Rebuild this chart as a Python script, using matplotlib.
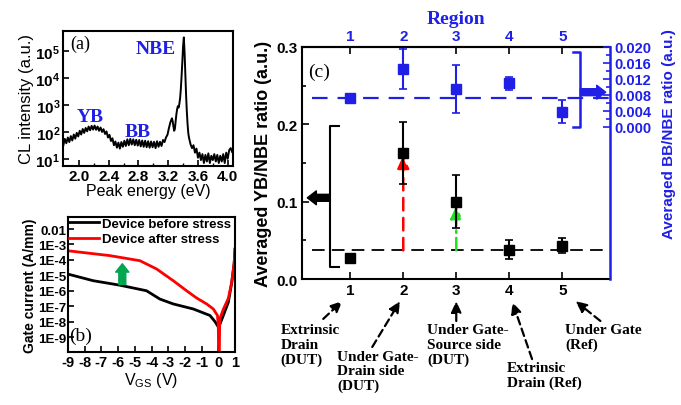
import matplotlib
matplotlib.use("Agg")
import matplotlib.pyplot as plt
import numpy as np

plt.rcParams['font.family'] = ['Liberation Sans', 'DejaVu Sans']
plt.rcParams['mathtext.fontset'] = 'custom'
plt.rcParams['mathtext.rm'] = 'Liberation Sans'
plt.rcParams['mathtext.bf'] = 'Liberation Sans:bold'

BLUE = '#1f1fe6'
SERIF = ['Liberation Serif', 'DejaVu Serif']

# (a) CL spectrum
cl_energy = [1.79, 1.81, 1.83, 1.85, 1.87, 1.89, 1.91, 1.93, 1.95, 1.97, 1.99,
             2.01, 2.03, 2.05, 2.07, 2.09, 2.11, 2.13, 2.15, 2.17, 2.19, 2.21,
             2.23, 2.25, 2.27, 2.29, 2.31, 2.33, 2.35, 2.37, 2.39, 2.41, 2.43,
             2.45, 2.47, 2.49, 2.51, 2.53, 2.55, 2.57, 2.59, 2.61, 2.63, 2.65,
             2.67, 2.69, 2.71, 2.73, 2.75, 2.77, 2.79, 2.81, 2.83, 2.85, 2.87,
             2.89, 2.91, 2.93, 2.95, 2.97, 2.99, 3.01, 3.03, 3.05, 3.07, 3.09,
             3.11, 3.13, 3.15, 3.17, 3.19, 3.21, 3.23, 3.25, 3.26, 3.27, 3.28,
             3.29, 3.30, 3.31, 3.32, 3.33, 3.34, 3.35, 3.36, 3.37, 3.38, 3.39,
             3.40, 3.41, 3.42, 3.43, 3.44, 3.45, 3.46, 3.47, 3.48, 3.50, 3.52,
             3.54, 3.56, 3.58, 3.60, 3.62, 3.64, 3.66, 3.68, 3.70, 3.72, 3.74,
             3.76, 3.78, 3.80, 3.82, 3.84, 3.86, 3.88, 3.90, 3.92, 3.94, 3.96,
             3.98, 4.00, 4.02, 4.04, 4.06]
cl_intensity = [32, 55, 38, 62, 42, 70, 48, 80, 56, 92, 68,
                110, 80, 128, 92, 140, 105, 158, 115, 168, 122, 172,
                120, 158, 110, 146, 100, 126, 84, 104, 62, 78, 46,
                58, 32, 44, 26, 40, 24, 42, 28, 47, 30, 53,
                32, 55, 34, 53, 32, 51, 31, 50, 29, 48, 28,
                47, 27, 45, 26, 44, 27, 43, 25, 45, 28, 43,
                30, 50, 42, 62, 78, 140, 230, 320, 250, 160, 110,
                130, 250, 450, 700, 900, 800, 1100, 1800, 4000, 12000, 40000,
                150000, 320000, 90000, 15000, 2500, 600, 200, 90, 60, 35, 25,
                32, 17, 24, 11, 17, 9, 15, 7, 14, 8, 16,
                7, 13, 9, 15, 8, 14, 7, 13, 8, 15, 7,
                17, 10, 21, 25, 18]

# (b) gate leakage curves
vgs_before = [-9, -7.5, -5.9, -4.3, -3.5, -2.7, -1.5, -0.5, -0.2, 0.0, 0.1,
              0.3, 0.6, 0.8, 0.95, 1.0]
ig_before = [1.2e-5, 4.5e-6, 2.3e-6, 1.0e-6, 2.9e-7, 1.4e-7, 6.6e-8, 2.5e-8,
             1.0e-8, 4.5e-9, 7.0e-9, 2.5e-8, 1.8e-7, 3.2e-6, 6.3e-5, 5e-4]
vgs_after = [-9, -6.5, -4.7, -3.7, -2.7, -1.9, -1.3, -0.7, -0.3, -0.05, 0.0,
             0.02, 0.05, 0.08, 0.1, 0.3, 0.6, 0.8, 0.95, 1.0]
ig_after = [3.9e-4, 1.9e-4, 8.9e-5, 2.6e-5, 4.5e-6, 1.0e-6, 3.4e-7, 1.4e-7,
            6.6e-8, 2.5e-8, 5e-9, 1e-11, 1e-11, 5e-9, 1.6e-8, 6.3e-8, 3.2e-7,
            3.5e-6, 6.3e-5, 5e-4]

# (c) region statistics
regions = [1, 2, 3, 4, 5]
yb_nbe = [0.027, 0.163, 0.100, 0.038, 0.043]
yb_err = [0.004, 0.040, 0.034, 0.012, 0.010]
yb_ref = 0.037
bb_nbe = [0.00725, 0.0145, 0.0095, 0.0109, 0.0038]
bb_err = [0.0005, 0.0050, 0.0061, 0.0016, 0.0029]
bb_ref = 0.00725
region_names = ['Extrinsic\nDrain\n(DUT)', 'Under Gate-\nDrain side\n(DUT)',
                'Under Gate-\nSource side\n(DUT)', 'Extrinsic\nDrain (Ref)',
                'Under Gate\n(Ref)']

fig = plt.figure(figsize=(6.81, 4.06), dpi=100)


def frame(ax, lw=1.5):
    for s in ax.spines.values():
        s.set_linewidth(lw)


# ---------------- (a)
axa = fig.add_axes([0.0925, 0.589, 0.2495, 0.332])
axa.plot(cl_energy, cl_intensity, color='k', lw=1.4)
axa.set_yscale('log')
axa.set_xlim(1.785, 4.07)
axa.set_ylim(10**0.74, 10**5.74)
axa.set_xticks([2.0, 2.4, 2.8, 3.2, 3.6, 4.0])
axa.set_xticks([2.2, 2.6, 3.0, 3.4, 3.8], minor=True)
axa.set_yticks([1e1, 1e2, 1e3, 1e4, 1e5])
axa.set_yticklabels([r'$\mathbf{10^{%d}}$' % i for i in range(1, 6)])
axa.set_xticklabels(['2.0', '2.4', '2.8', '3.2', '3.6', '4.0'], fontweight='bold')
axa.tick_params(which='both', direction='in', labelsize=11, pad=2)
axa.tick_params(which='major', length=4, width=1.2)
axa.tick_params(which='minor', length=2.5, width=1)
axa.set_xlabel('Peak energy (eV)', fontsize=11.5, labelpad=0)
axa.set_ylabel('CL intensity (a.u.)', fontsize=12, labelpad=1)
frame(axa)
axa.text(1.88, 10**5.3, '(a)', family=SERIF, fontsize=13, va='center')
axa.text(3.03, 1.2e5, 'NBE', family=SERIF, fontsize=14, fontweight='bold',
         color=BLUE, ha='center', va='center')
axa.text(2.15, 360, 'YB', family=SERIF, fontsize=14, fontweight='bold',
         color=BLUE, ha='center', va='center')
axa.text(2.79, 100, 'BB', family=SERIF, fontsize=14, fontweight='bold',
         color=BLUE, ha='center', va='center')

# ---------------- (b)
axb = fig.add_axes([0.0999, 0.1305, 0.2452, 0.3325])
axb.plot(vgs_before, ig_before, color='k', lw=2, label='Device before stress')
axb.plot(vgs_after, ig_after, color='red', lw=2, label='Device after stress')
axb.set_yscale('log')
axb.set_xlim(-9, 1)
axb.set_ylim(1.07e-10, 10**-1.22)
axb.set_yticks([1e-2, 1e-3, 1e-4, 1e-5, 1e-6, 1e-7, 1e-8, 1e-9])
axb.set_yticklabels(['0.01', '1E-3', '1E-4', '1E-5', '1E-6', '1E-7', '1E-8', '1E-9'],
                    fontweight='bold')
axb.yaxis.set_minor_locator(matplotlib.ticker.NullLocator())
axb.set_xticks(range(-9, 2))
axb.set_xticklabels([str(v) for v in range(-9, 2)], fontweight='bold')
axb.tick_params(axis='y', direction='in', labelsize=9.6, length=4, width=1.2, pad=1)
axb.tick_params(axis='x', direction='in', labelsize=10.5, length=4, width=1.2, pad=2)
axb.set_xlabel(r'V$_{\rm GS}$ (V)', fontsize=11.5, labelpad=1)
axb.set_ylabel('Gate current (A/mm)', fontsize=10, fontweight='bold', labelpad=1)
frame(axb)
axb.legend(loc='upper left', frameon=False, handlelength=2.3, handletextpad=0.2,
           labelspacing=0.25, borderaxespad=0.0, borderpad=0.05,
           prop={'size': 9.5, 'weight': 'bold'})
axb.annotate('', xy=(-5.75, 10**-4.25), xytext=(-5.75, 10**-5.6),
             arrowprops=dict(arrowstyle='simple,head_width=0.95,head_length=0.6,tail_width=0.5',
                             color='#00a651', mutation_scale=10, shrinkA=0, shrinkB=0))
axb.text(-8.95, 1.2e-9, '(b)', family=SERIF, fontsize=14, va='center')

# ---------------- (c)
axc = fig.add_axes([0.4435, 0.3103, 0.4522, 0.5715])
axc.errorbar(regions, yb_nbe, yerr=yb_err, fmt='s', color='k', ms=7,
             elinewidth=1.5, capsize=3, capthick=1.2, zorder=4)
axc.plot([0.28, 5.9], [yb_ref, yb_ref], color='k', lw=1.3, dashes=(7, 4))
axc.set_xlim(0.09, 5.9)
axc.set_ylim(0, 0.3)
axc.set_xticks(regions)
axc.set_xticklabels([str(r) for r in regions], fontweight='bold')
axc.set_yticks([0.0, 0.1, 0.2, 0.3])
axc.set_yticklabels(['0.0', '0.1', '0.2', '0.3'], fontweight='bold')
axc.set_yticks([0.05, 0.15, 0.25], minor=True)
axc.tick_params(which='both', direction='in', labelsize=11, width=1.2)
axc.tick_params(which='major', length=5, pad=3)
axc.tick_params(which='minor', length=3)
axc.tick_params(axis='y', right=False)
axc.set_ylabel('Averaged YB/NBE ratio (a.u.)', fontsize=13, fontweight='bold',
               labelpad=3)
frame(axc)
axc.spines['right'].set_visible(False)

top = axc.secondary_xaxis('top')
top.set_xticks(regions)
top.set_xticklabels([str(r) for r in regions], fontweight='bold')
top.tick_params(direction='in', length=5, width=1.2, labelsize=11,
                labelcolor=BLUE, color='k', pad=3)
top.set_xlabel('Region', family=SERIF, fontsize=14, fontweight='bold',
               color=BLUE, labelpad=4)
top.spines['top'].set_linewidth(1.5)

ax2 = axc.twinx()
ax2.errorbar(regions, bb_nbe, yerr=bb_err, fmt='s', color=BLUE, ms=7,
             elinewidth=1.5, capsize=3, capthick=1.2, zorder=4)
ax2.plot([0.28, 5.9], [bb_ref, bb_ref], color=BLUE, lw=1.6, dashes=(7, 4.5))
ax2.set_ylim(-0.038, 0.020)
ax2.set_yticks([0.0, 0.004, 0.008, 0.012, 0.016, 0.020])
ax2.set_yticklabels(['0.000', '0.004', '0.008', '0.012', '0.016', '0.020'],
                    fontweight='bold')
ax2.set_yticks([0.002, 0.006, 0.010, 0.014, 0.018], minor=True)
ax2.tick_params(which='both', direction='in', colors=BLUE, labelsize=10.5,
                width=1.2, pad=3)
ax2.tick_params(which='major', length=5)
ax2.tick_params(which='minor', length=3)
ax2.set_ylabel('Averaged BB/NBE ratio (a.u.)', fontsize=11, fontweight='bold',
               color=BLUE, labelpad=2)
ax2.yaxis.set_label_coords(1.17, 0.63)
for k in ['left', 'top', 'bottom']:
    ax2.spines[k].set_visible(False)
ax2.spines['right'].set_color(BLUE)
ax2.spines['right'].set_linewidth(1.8)

# brackets and arrows
axc.plot([0.79, 0.62, 0.62, 0.79], [0.198, 0.198, 0.0155, 0.0155], color='k', lw=1.5)
axc.annotate('', xy=(0.19, 0.105), xytext=(0.62, 0.105),
             arrowprops=dict(arrowstyle='simple,head_width=1.0,head_length=0.65,tail_width=0.5',
                             color='k', mutation_scale=10, shrinkA=0, shrinkB=0))
ax2.plot([5.21, 5.34, 5.34, 5.21], [0.01875, 0.01875, 0.0, 0.0], color=BLUE, lw=1.8)
ax2.annotate('', xy=(5.82, 0.0087), xytext=(5.34, 0.0087),
             arrowprops=dict(arrowstyle='simple,head_width=1.0,head_length=0.65,tail_width=0.5',
                             color=BLUE, mutation_scale=10, shrinkA=0, shrinkB=0))
axc.annotate('', xy=(2, 0.16), xytext=(2, yb_ref),
             arrowprops=dict(arrowstyle='-|>,head_length=0.55,head_width=0.25',
                             color='red', lw=1.8, linestyle=(0, (5, 3)),
                             mutation_scale=14, shrinkA=0, shrinkB=0), zorder=3)
axc.annotate('', xy=(3, 0.095), xytext=(3, yb_ref),
             arrowprops=dict(arrowstyle='-|>,head_length=0.55,head_width=0.25',
                             color='#22e022', lw=1.8, linestyle=(0, (5, 2, 1, 2)),
                             mutation_scale=14, shrinkA=0, shrinkB=0), zorder=3)
axc.text(0.2, 0.268, '(c)', family=SERIF, fontsize=14, va='center')

# region description annotations below the axis
tails = [(0.49, -0.172), (1.415, -0.293), (3.0, -0.181), (4.43, -0.345), (5.72, -0.181)]
tips = [(0.85, -0.095), (1.94, -0.095), (3.0, -0.095), (4.06, -0.1), (5.25, -0.095)]
text_pos = [(-0.32, -0.19), (0.755, -0.305), (2.45, -0.19), (3.96, -0.355), (5.06, -0.19)]
for name, t0, t1, tp in zip(region_names, tails, tips, text_pos):
    axc.annotate('', xy=t1, xytext=t0, xycoords=('data', 'axes fraction'),
                 textcoords=('data', 'axes fraction'), annotation_clip=False,
                 arrowprops=dict(arrowstyle='-|>,head_length=0.55,head_width=0.25',
                                 color='k', lw=1.6, linestyle=(0, (3.5, 2)),
                                 mutation_scale=12, shrinkA=0, shrinkB=0))
    axc.text(tp[0], tp[1], name, transform=axc.get_xaxis_transform(),
             family=SERIF, fontsize=11, fontweight='bold', ha='left', va='top',
             linespacing=1.15, clip_on=False)

fig.savefig('out.png', dpi=100)
